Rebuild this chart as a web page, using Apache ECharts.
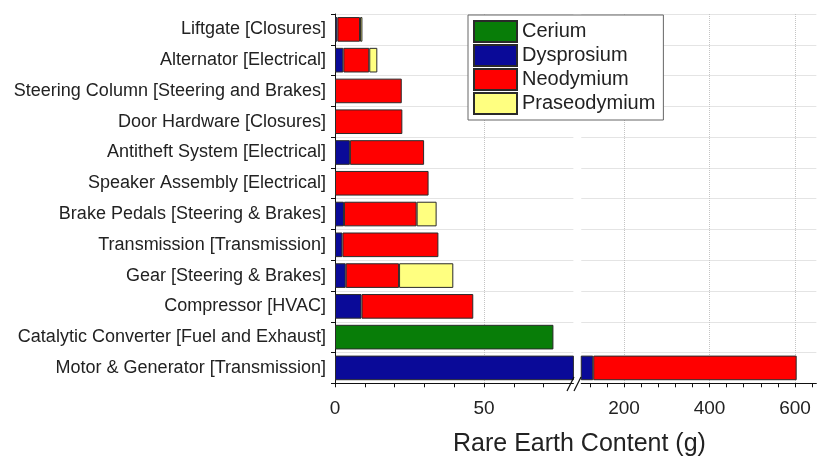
<!DOCTYPE html>
<html>
<head>
<meta charset="utf-8">
<script src="https://cdn.jsdelivr.net/npm/echarts@6/dist/echarts.min.js"></script>
<style>html,body{margin:0;padding:0;background:#fff;}#c{width:817px;height:457px;}</style>
</head>
<body>
<div id="c"></div>
<script>
// ---- data (categories listed top to bottom) ----
var categories = [
  'Liftgate [Closures]',
  'Alternator [Electrical]',
  'Steering Column [Steering and Brakes]',
  'Door Hardware [Closures]',
  'Antitheft System [Electrical]',
  'Speaker Assembly [Electrical]',
  'Brake Pedals [Steering & Brakes]',
  'Transmission [Transmission]',
  'Gear [Steering & Brakes]',
  'Compressor [HVAC]',
  'Catalytic Converter [Fuel and Exhaust]',
  'Motor & Generator [Transmission]'
];
var cerium       = [null, null, null, null, null, null, null, null, null, null, 73.3, null];
var dysprosium   = [0.8, 2.8, null, null, 5.0, null, 3.0, 2.5, 3.6, 8.9, null, 128];
var neodymium    = [7.6, 8.7, 22.4, 22.6, 24.9, 31.4, 24.4, 32.2, 17.9, 37.5, null, 476];
var praseodymium = [0.8, 2.7, null, null, null, null, 6.7, null, 18.2, null, null, null];

var seriesNames = ['Cerium', 'Dysprosium', 'Neodymium', 'Praseodymium'];
var seriesData = [cerium, dysprosium, neodymium, praseodymium];
var seriesColors = ['#087d08', '#0a0a98', '#ff0000', '#ffff80'];

// broken x axis: low segment and high segment
var lowMin = 0, lowMax = 80;
var lowTicks = [0, 10, 20, 30, 40, 50, 60, 70];
var lowLabels = [0, 50];
var lowGrid = [50];
var highMin = 100, highMax = 650;
var highTicks = [120, 160, 200, 240, 280, 320, 360, 400, 440, 480, 520, 560, 600, 640];
var highLabels = [200, 400, 600];
var highGrid = [200, 400, 600];

var FONT = 'Liberation Sans, Arial, Helvetica, sans-serif';
var chart = echarts.init(document.getElementById('c'), null, {renderer: 'canvas'});

function yAxisFor(idx, showAxis) {
  return {
    type: 'category', gridIndex: idx, data: categories, inverse: true,
    axisLine: {show: showAxis, lineStyle: {color: '#111', width: 1}},
    axisTick: {show: showAxis, length: 4, lineStyle: {color: '#111'}},
    axisLabel: {show: showAxis, fontSize: 18, color: '#222', fontFamily: FONT, margin: 9},
    splitLine: {show: true, lineStyle: {color: '#e4e4e4', width: 1}}
  };
}
function xAxisFor(idx, mn, mx, ticks, labels) {
  return {
    type: 'value', gridIndex: idx, min: mn, max: mx,
    axisLine: {show: true, onZero: false, lineStyle: {color: '#111', width: 1}},
    axisTick: {show: true, length: 4, customValues: ticks, lineStyle: {color: '#111'}},
    axisLabel: {show: true, customValues: labels, fontSize: 19, color: '#222', fontFamily: FONT, margin: 16},
    splitLine: {show: false}
  };
}

var series = [];
[0, 1].forEach(function (g) {
  seriesNames.forEach(function (name, i) {
    var s = {
      type: 'bar', name: name, xAxisIndex: g, yAxisIndex: g, stack: 'st' + g,
      barWidth: '80%', data: seriesData[i], clip: true,
      itemStyle: {color: seriesColors[i], borderColor: '#2a2a2a', borderWidth: 1},
      emphasis: {disabled: true}, z: 2
    };
    if (i === 0) {
      s.markLine = {
        silent: true, symbol: 'none', z: 1, animation: false,
        label: {show: false},
        lineStyle: {color: '#c4c4c4', type: 'dotted', width: 1},
        data: (g === 0 ? lowGrid : highGrid).map(function (v) { return {xAxis: v}; })
      };
    }
    series.push(s);
  });
});

chart.setOption({
  backgroundColor: '#fff',
  animation: false,
  textStyle: {fontFamily: FONT},
  title: {
    text: 'Rare Earth Content (g)', left: 448, top: 427,
    textStyle: {fontSize: 25, fontWeight: 'normal', color: '#222', fontFamily: FONT}
  },
  legend: {
    data: seriesNames, orient: 'vertical', left: 468, top: 15,
    icon: 'rect', itemWidth: 43, itemHeight: 21, itemGap: 1,
    padding: [5, 8, 5, 5], borderColor: '#666', borderWidth: 1, backgroundColor: '#fff',
    textStyle: {fontSize: 20, lineHeight: 21, color: '#222', fontFamily: FONT},
    selectedMode: false
  },
  grid: [
    {left: 335, top: 14, width: 238.4, height: 369.3, containLabel: false, outerBoundsMode: 'none'},
    {left: 581.25, top: 14, width: 235.1, height: 369.3, containLabel: false, outerBoundsMode: 'none'}
  ],
  xAxis: [
    xAxisFor(0, lowMin, lowMax, lowTicks, lowLabels),
    xAxisFor(1, highMin, highMax, highTicks, highLabels)
  ],
  yAxis: [yAxisFor(0, true), yAxisFor(1, false)],
  series: series,
  graphic: [
    {type: 'line', shape: {x1: 567, y1: 391, x2: 574, y2: 377}, style: {stroke: '#111', lineWidth: 1.3}, z: 100},
    {type: 'line', shape: {x1: 574, y1: 391, x2: 581, y2: 377}, style: {stroke: '#111', lineWidth: 1.3}, z: 100}
  ]
});
</script>
</body>
</html>
